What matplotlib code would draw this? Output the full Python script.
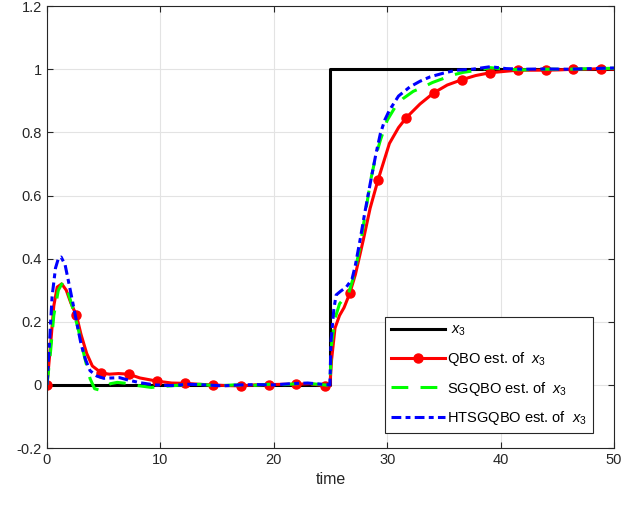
import matplotlib
matplotlib.use('Agg')
import matplotlib.pyplot as plt

plt.rcParams['font.family'] = ['Liberation Sans', 'DejaVu Sans']
plt.rcParams['mathtext.fontset'] = 'custom'
plt.rcParams['mathtext.rm'] = 'Liberation Sans'
plt.rcParams['mathtext.it'] = 'Liberation Sans:italic'

# true state x3 (step at t = 25)
t_true = [0, 25, 25, 50]
x_true = [0, 0, 1, 1]

# QBO estimate
t_qbo = [0, 0.3, 0.6, 0.9, 1.3, 1.7, 2.1, 2.6, 3.0, 3.5, 4.0, 4.8, 5.5, 6.3, 7.2,
         8.2, 9.7, 11.0, 12.2, 13.4, 14.6, 15.8, 17.1, 18.3, 19.6, 20.8, 22.0,
         23.2, 24.5, 24.95, 25.1, 25.4, 25.8, 26.2, 26.7, 27.2, 27.9, 28.5, 29.2,
         30.2, 31.0, 31.7, 32.9, 34.1, 35.3, 36.6, 37.8, 39.1, 40.3, 41.5, 42.7,
         44.0, 45.2, 46.4, 47.6, 48.9, 50]
x_qbo = [0, 0.12, 0.25, 0.31, 0.32, 0.30, 0.26, 0.22, 0.16, 0.10, 0.06, 0.038,
         0.034, 0.036, 0.034, 0.022, 0.012, 0.006, 0.005, 0.002, 0.0, -0.002,
         -0.003, 0.0, 0.001, 0.002, 0.002, 0.004, -0.003, -0.003, 0.08, 0.18,
         0.22, 0.245, 0.29, 0.35, 0.46, 0.56, 0.65, 0.765, 0.815, 0.847, 0.89,
         0.925, 0.95, 0.967, 0.98, 0.989, 0.993, 0.997, 0.997, 0.997, 0.998,
         1.0, 1.0, 1.002, 1.0]
t_marks = [0, 2.6, 4.8, 7.2, 9.7, 12.2, 14.6, 17.1, 19.6, 22.0, 24.5,
           26.7, 29.2, 31.7, 34.1, 36.6, 39.1, 41.5, 44.0, 46.4, 48.9]

# SGQBO estimate
t_sg = [0, 0.3, 0.6, 1.0, 1.4, 1.8, 2.3, 2.8, 3.3, 3.8, 4.2, 4.6, 5.0, 5.6, 6.2,
        7.0, 8.0, 9.2, 10.5, 12.0, 13.5, 15.0, 16.5, 18.0, 19.5, 21.0, 22.5,
        24.0, 24.95, 25.1, 25.4, 25.8, 26.2, 26.6, 27.1, 27.6, 28.1, 28.6, 29.0,
        29.4, 30.0, 30.7, 31.4, 32.3, 33.2, 34.0, 34.9, 35.8, 36.7, 37.8, 39.1,
        40.5, 42.0, 44.0, 46.0, 48.0, 50]
x_sg = [0, 0.10, 0.22, 0.30, 0.325, 0.30, 0.24, 0.17, 0.09, 0.02, -0.012,
        -0.016, -0.008, 0.004, 0.008, 0.005, -0.002, -0.008, -0.004, 0.0, 0.002,
        -0.003, 0.0, -0.002, 0.002, 0.001, 0.005, 0.002, -0.002, 0.13, 0.21,
        0.257, 0.275, 0.29, 0.35, 0.436, 0.55, 0.658, 0.725, 0.775, 0.838, 0.88,
        0.907, 0.93, 0.944, 0.958, 0.97, 0.982, 0.99, 0.996, 1.005, 1.0, 0.998,
        1.0, 1.0, 1.002, 1.003]

# HTSGQBO estimate
t_hts = [0, 0.2, 0.45, 0.75, 1.0, 1.25, 1.6, 2.0, 2.5, 3.0, 3.4, 3.8, 4.4, 5.0,
         5.7, 6.4, 7.2, 8.2, 9.5, 11.0, 12.5, 14.0, 15.5, 17.0, 18.5, 20.0, 21.5,
         23.0, 24.3, 24.95, 25.05, 25.3, 25.5, 25.9, 26.4, 26.9, 27.2, 27.6,
         28.0, 28.5, 29.0, 29.4, 29.8, 30.2, 31.0, 32.0, 32.9, 33.8, 35.0, 36.1,
         37.5, 39.1, 40.5, 42.0, 44.0, 46.0, 48.0, 50]
x_hts = [0, 0.12, 0.28, 0.37, 0.40, 0.405, 0.38, 0.31, 0.22, 0.13, 0.08, 0.045,
         0.028, 0.021, 0.022, 0.023, 0.015, 0.007, 0.0, -0.002, 0.002, 0.0,
         -0.003, 0.0, 0.001, 0.0, 0.004, 0.006, 0.002, 0.0, 0.14, 0.24, 0.285,
         0.297, 0.31, 0.335, 0.38, 0.457, 0.54, 0.637, 0.73, 0.796, 0.84, 0.87,
         0.915, 0.944, 0.962, 0.976, 0.988, 0.997, 1.0, 1.008, 1.002, 1.0, 1.001,
         1.0, 1.002, 1.004]

fig = plt.figure(figsize=(6.41, 5.08), dpi=100)
ax = fig.add_axes([0.0733, 0.118, 0.8845, 0.870])

mark_idx = [t_qbo.index(t) for t in t_marks]
x3 = r'$x_{\mathit{3}}$'

ax.plot(t_true, x_true, color='black', lw=2.2, label=' ' + x3)
ax.plot(t_qbo, x_qbo, color='red', lw=2.2, marker='o', markersize=6.5,
        markevery=mark_idx, label='QBO est. of  ' + x3)
ax.plot(t_sg, x_sg, color=(0, 1, 0), lw=2.2, dashes=(5.5, 4),
        label='SGQBO est. of  ' + x3)
ax.plot(t_hts, x_hts, color='blue', lw=2.2, dashes=(3.2, 1.4, 1.6, 1.4),
        label='HTSGQBO est. of  ' + x3)

ax.set_xlim(0, 50)
ax.set_ylim(-0.2, 1.2)
ax.set_xticks([0, 10, 20, 30, 40, 50])
ax.set_yticks([-0.2, 0, 0.2, 0.4, 0.6, 0.8, 1, 1.2])
ax.set_yticklabels(['-0.2', '0', '0.2', '0.4', '0.6', '0.8', '1', '1.2'])
ax.grid(True, color='#e3e3e3', lw=0.8)
ax.set_axisbelow(True)
ax.tick_params(direction='in', top=True, right=True, labelsize=10.5,
               length=4, width=0.8, colors='#262626')
for s in ax.spines.values():
    s.set_color('#262626')
    s.set_linewidth(0.8)
ax.set_xlabel('time', fontsize=11.5, color='#262626')

leg = ax.legend(loc='lower right', bbox_to_anchor=(0.963, 0.034),
                borderaxespad=0,
                fontsize=10.5, handlelength=3.7, handletextpad=0.2,
                labelspacing=0.8, borderpad=0.4, fancybox=False,
                framealpha=1, edgecolor='#262626')
leg.get_frame().set_linewidth(0.8)

fig.savefig('out.png', dpi=100)
